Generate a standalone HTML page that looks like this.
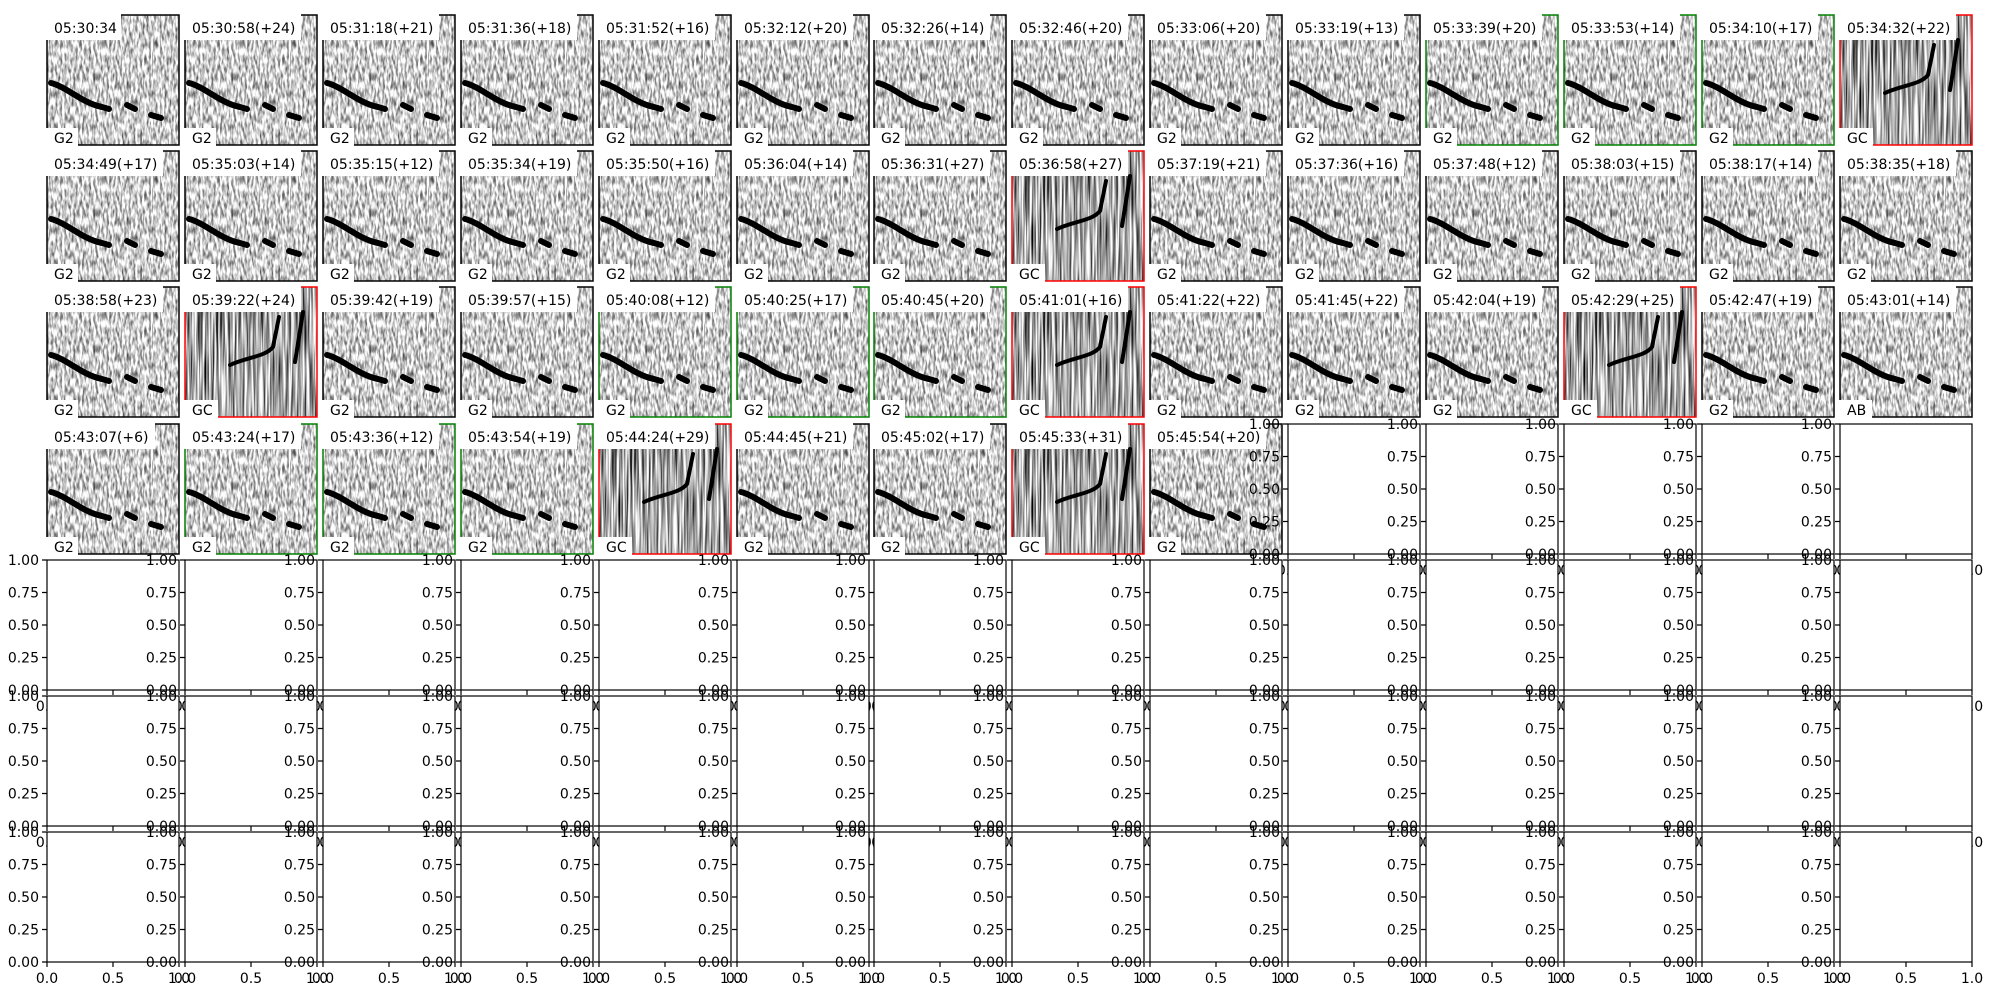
<!DOCTYPE html>
<html><head><meta charset="utf-8"><style>
html,body{margin:0;padding:0;background:#fff}
svg{display:block}
text{font-family:"DejaVu Sans","Liberation Sans",sans-serif;font-size:14px;fill:#000}
.yl{text-anchor:end}
.xl{text-anchor:middle}
.ax{fill:#fff;stroke:#000;stroke-width:1.2}
.tk{stroke:#000;stroke-width:1.2;fill:none}
.fr{fill:none;stroke:#000;stroke-width:1.5}
.fg{fill:none;stroke:#008000;stroke-width:1.5}
.fred{fill:none;stroke:#ff0000;stroke-width:1.5}
.bx{fill:#fff}
.c{fill:none;stroke:#000;stroke-width:6;stroke-linecap:round}
.c2{fill:none;stroke:#000;stroke-width:4;stroke-linecap:round}
</style></head><body>
<svg width="2000" height="1000" viewBox="0 0 2000 1000" xmlns="http://www.w3.org/2000/svg">
<defs>
<filter id="n" x="0" y="0" width="1" height="1" filterUnits="objectBoundingBox">
<feTurbulence type="fractalNoise" baseFrequency="0.45 0.12" numOctaves="2" seed="3"/>
<feColorMatrix type="matrix" values="0 0 0 0 0  0 0 0 0 0  0 0 0 0 0  1.5 0 0 0 -0.55"/>
</filter>
<filter id="g" x="0" y="0" width="1" height="1" filterUnits="objectBoundingBox">
<feTurbulence type="fractalNoise" baseFrequency="0.5 0.015" numOctaves="2" seed="7"/>
<feColorMatrix type="matrix" values="0 0 0 0 0  0 0 0 0 0  0 0 0 0 0  2.2 0 0 0 -0.75"/>
</filter>
<g id="s2"><rect width="132" height="130" fill="#fff"/><rect width="132" height="130" filter="url(#n)"/><path class="c" d="M4 68 C20 72 35 88 55 92 L62 94 M80 90 l8 4 M104 100 l10 3"/></g>
<g id="sc"><rect width="132" height="130" fill="#fff"/><rect width="132" height="130" filter="url(#g)"/><path class="c2" d="M45 78 C62 70 80 70 88 60 L94 30 M110 75 L118 25"/></g>
</defs>

<!-- Row 1 -->
<g transform="translate(47,15)"><use href="#s2"/><rect class="fr" width="132" height="130"/><rect class="bx" x="-1" y="-1" width="75" height="26"/><text x="7" y="18">05:30:34</text><rect class="bx" x="-1" y="113" width="32" height="18"/><text x="7" y="128">G2</text></g>
<g transform="translate(185,15)"><use href="#s2"/><rect class="fr" width="132" height="130"/><rect class="bx" x="-1" y="-1" width="117" height="26"/><text x="7" y="18">05:30:58(+24)</text><rect class="bx" x="-1" y="113" width="32" height="18"/><text x="7" y="128">G2</text></g>
<g transform="translate(323,15)"><use href="#s2"/><rect class="fr" width="132" height="130"/><rect class="bx" x="-1" y="-1" width="117" height="26"/><text x="7" y="18">05:31:18(+21)</text><rect class="bx" x="-1" y="113" width="32" height="18"/><text x="7" y="128">G2</text></g>
<g transform="translate(461,15)"><use href="#s2"/><rect class="fr" width="132" height="130"/><rect class="bx" x="-1" y="-1" width="117" height="26"/><text x="7" y="18">05:31:36(+18)</text><rect class="bx" x="-1" y="113" width="32" height="18"/><text x="7" y="128">G2</text></g>
<g transform="translate(599,15)"><use href="#s2"/><rect class="fr" width="132" height="130"/><rect class="bx" x="-1" y="-1" width="117" height="26"/><text x="7" y="18">05:31:52(+16)</text><rect class="bx" x="-1" y="113" width="32" height="18"/><text x="7" y="128">G2</text></g>
<g transform="translate(737,15)"><use href="#s2"/><rect class="fr" width="132" height="130"/><rect class="bx" x="-1" y="-1" width="117" height="26"/><text x="7" y="18">05:32:12(+20)</text><rect class="bx" x="-1" y="113" width="32" height="18"/><text x="7" y="128">G2</text></g>
<g transform="translate(874,15)"><use href="#s2"/><rect class="fr" width="132" height="130"/><rect class="bx" x="-1" y="-1" width="117" height="26"/><text x="7" y="18">05:32:26(+14)</text><rect class="bx" x="-1" y="113" width="32" height="18"/><text x="7" y="128">G2</text></g>
<g transform="translate(1012,15)"><use href="#s2"/><rect class="fr" width="132" height="130"/><rect class="bx" x="-1" y="-1" width="117" height="26"/><text x="7" y="18">05:32:46(+20)</text><rect class="bx" x="-1" y="113" width="32" height="18"/><text x="7" y="128">G2</text></g>
<g transform="translate(1150,15)"><use href="#s2"/><rect class="fr" width="132" height="130"/><rect class="bx" x="-1" y="-1" width="117" height="26"/><text x="7" y="18">05:33:06(+20)</text><rect class="bx" x="-1" y="113" width="32" height="18"/><text x="7" y="128">G2</text></g>
<g transform="translate(1288,15)"><use href="#s2"/><rect class="fr" width="132" height="130"/><rect class="bx" x="-1" y="-1" width="117" height="26"/><text x="7" y="18">05:33:19(+13)</text><rect class="bx" x="-1" y="113" width="32" height="18"/><text x="7" y="128">G2</text></g>
<g transform="translate(1426,15)"><use href="#s2"/><rect class="fg" width="132" height="130"/><rect class="bx" x="-1" y="-1" width="117" height="26"/><text x="7" y="18">05:33:39(+20)</text><rect class="bx" x="-1" y="113" width="32" height="18"/><text x="7" y="128">G2</text></g>
<g transform="translate(1564,15)"><use href="#s2"/><rect class="fg" width="132" height="130"/><rect class="bx" x="-1" y="-1" width="117" height="26"/><text x="7" y="18">05:33:53(+14)</text><rect class="bx" x="-1" y="113" width="32" height="18"/><text x="7" y="128">G2</text></g>
<g transform="translate(1702,15)"><use href="#s2"/><rect class="fg" width="132" height="130"/><rect class="bx" x="-1" y="-1" width="117" height="26"/><text x="7" y="18">05:34:10(+17)</text><rect class="bx" x="-1" y="113" width="32" height="18"/><text x="7" y="128">G2</text></g>
<g transform="translate(1840,15)"><use href="#sc"/><rect class="fred" width="132" height="130"/><rect class="bx" x="-1" y="-1" width="117" height="26"/><text x="7" y="18">05:34:32(+22)</text><rect class="bx" x="-1" y="113" width="34" height="18"/><text x="7" y="128">GC</text></g>

<!-- Row 2 -->
<g transform="translate(47,151)"><use href="#s2"/><rect class="fr" width="132" height="130"/><rect class="bx" x="-1" y="-1" width="117" height="26"/><text x="7" y="18">05:34:49(+17)</text><rect class="bx" x="-1" y="113" width="32" height="18"/><text x="7" y="128">G2</text></g>
<g transform="translate(185,151)"><use href="#s2"/><rect class="fr" width="132" height="130"/><rect class="bx" x="-1" y="-1" width="117" height="26"/><text x="7" y="18">05:35:03(+14)</text><rect class="bx" x="-1" y="113" width="32" height="18"/><text x="7" y="128">G2</text></g>
<g transform="translate(323,151)"><use href="#s2"/><rect class="fr" width="132" height="130"/><rect class="bx" x="-1" y="-1" width="117" height="26"/><text x="7" y="18">05:35:15(+12)</text><rect class="bx" x="-1" y="113" width="32" height="18"/><text x="7" y="128">G2</text></g>
<g transform="translate(461,151)"><use href="#s2"/><rect class="fr" width="132" height="130"/><rect class="bx" x="-1" y="-1" width="117" height="26"/><text x="7" y="18">05:35:34(+19)</text><rect class="bx" x="-1" y="113" width="32" height="18"/><text x="7" y="128">G2</text></g>
<g transform="translate(599,151)"><use href="#s2"/><rect class="fr" width="132" height="130"/><rect class="bx" x="-1" y="-1" width="117" height="26"/><text x="7" y="18">05:35:50(+16)</text><rect class="bx" x="-1" y="113" width="32" height="18"/><text x="7" y="128">G2</text></g>
<g transform="translate(737,151)"><use href="#s2"/><rect class="fr" width="132" height="130"/><rect class="bx" x="-1" y="-1" width="117" height="26"/><text x="7" y="18">05:36:04(+14)</text><rect class="bx" x="-1" y="113" width="32" height="18"/><text x="7" y="128">G2</text></g>
<g transform="translate(874,151)"><use href="#s2"/><rect class="fr" width="132" height="130"/><rect class="bx" x="-1" y="-1" width="117" height="26"/><text x="7" y="18">05:36:31(+27)</text><rect class="bx" x="-1" y="113" width="32" height="18"/><text x="7" y="128">G2</text></g>
<g transform="translate(1012,151)"><use href="#sc"/><rect class="fred" width="132" height="130"/><rect class="bx" x="-1" y="-1" width="117" height="26"/><text x="7" y="18">05:36:58(+27)</text><rect class="bx" x="-1" y="113" width="34" height="18"/><text x="7" y="128">GC</text></g>
<g transform="translate(1150,151)"><use href="#s2"/><rect class="fr" width="132" height="130"/><rect class="bx" x="-1" y="-1" width="117" height="26"/><text x="7" y="18">05:37:19(+21)</text><rect class="bx" x="-1" y="113" width="32" height="18"/><text x="7" y="128">G2</text></g>
<g transform="translate(1288,151)"><use href="#s2"/><rect class="fr" width="132" height="130"/><rect class="bx" x="-1" y="-1" width="117" height="26"/><text x="7" y="18">05:37:36(+16)</text><rect class="bx" x="-1" y="113" width="32" height="18"/><text x="7" y="128">G2</text></g>
<g transform="translate(1426,151)"><use href="#s2"/><rect class="fr" width="132" height="130"/><rect class="bx" x="-1" y="-1" width="117" height="26"/><text x="7" y="18">05:37:48(+12)</text><rect class="bx" x="-1" y="113" width="32" height="18"/><text x="7" y="128">G2</text></g>
<g transform="translate(1564,151)"><use href="#s2"/><rect class="fr" width="132" height="130"/><rect class="bx" x="-1" y="-1" width="117" height="26"/><text x="7" y="18">05:38:03(+15)</text><rect class="bx" x="-1" y="113" width="32" height="18"/><text x="7" y="128">G2</text></g>
<g transform="translate(1702,151)"><use href="#s2"/><rect class="fr" width="132" height="130"/><rect class="bx" x="-1" y="-1" width="117" height="26"/><text x="7" y="18">05:38:17(+14)</text><rect class="bx" x="-1" y="113" width="32" height="18"/><text x="7" y="128">G2</text></g>
<g transform="translate(1840,151)"><use href="#s2"/><rect class="fr" width="132" height="130"/><rect class="bx" x="-1" y="-1" width="117" height="26"/><text x="7" y="18">05:38:35(+18)</text><rect class="bx" x="-1" y="113" width="32" height="18"/><text x="7" y="128">G2</text></g>

<!-- Row 3 -->
<g transform="translate(47,287)"><use href="#s2"/><rect class="fr" width="132" height="130"/><rect class="bx" x="-1" y="-1" width="117" height="26"/><text x="7" y="18">05:38:58(+23)</text><rect class="bx" x="-1" y="113" width="32" height="18"/><text x="7" y="128">G2</text></g>
<g transform="translate(185,287)"><use href="#sc"/><rect class="fred" width="132" height="130"/><rect class="bx" x="-1" y="-1" width="117" height="26"/><text x="7" y="18">05:39:22(+24)</text><rect class="bx" x="-1" y="113" width="34" height="18"/><text x="7" y="128">GC</text></g>
<g transform="translate(323,287)"><use href="#s2"/><rect class="fr" width="132" height="130"/><rect class="bx" x="-1" y="-1" width="117" height="26"/><text x="7" y="18">05:39:42(+19)</text><rect class="bx" x="-1" y="113" width="32" height="18"/><text x="7" y="128">G2</text></g>
<g transform="translate(461,287)"><use href="#s2"/><rect class="fr" width="132" height="130"/><rect class="bx" x="-1" y="-1" width="117" height="26"/><text x="7" y="18">05:39:57(+15)</text><rect class="bx" x="-1" y="113" width="32" height="18"/><text x="7" y="128">G2</text></g>
<g transform="translate(599,287)"><use href="#s2"/><rect class="fg" width="132" height="130"/><rect class="bx" x="-1" y="-1" width="117" height="26"/><text x="7" y="18">05:40:08(+12)</text><rect class="bx" x="-1" y="113" width="32" height="18"/><text x="7" y="128">G2</text></g>
<g transform="translate(737,287)"><use href="#s2"/><rect class="fg" width="132" height="130"/><rect class="bx" x="-1" y="-1" width="117" height="26"/><text x="7" y="18">05:40:25(+17)</text><rect class="bx" x="-1" y="113" width="32" height="18"/><text x="7" y="128">G2</text></g>
<g transform="translate(874,287)"><use href="#s2"/><rect class="fg" width="132" height="130"/><rect class="bx" x="-1" y="-1" width="117" height="26"/><text x="7" y="18">05:40:45(+20)</text><rect class="bx" x="-1" y="113" width="32" height="18"/><text x="7" y="128">G2</text></g>
<g transform="translate(1012,287)"><use href="#sc"/><rect class="fred" width="132" height="130"/><rect class="bx" x="-1" y="-1" width="117" height="26"/><text x="7" y="18">05:41:01(+16)</text><rect class="bx" x="-1" y="113" width="34" height="18"/><text x="7" y="128">GC</text></g>
<g transform="translate(1150,287)"><use href="#s2"/><rect class="fr" width="132" height="130"/><rect class="bx" x="-1" y="-1" width="117" height="26"/><text x="7" y="18">05:41:22(+22)</text><rect class="bx" x="-1" y="113" width="32" height="18"/><text x="7" y="128">G2</text></g>
<g transform="translate(1288,287)"><use href="#s2"/><rect class="fr" width="132" height="130"/><rect class="bx" x="-1" y="-1" width="117" height="26"/><text x="7" y="18">05:41:45(+22)</text><rect class="bx" x="-1" y="113" width="32" height="18"/><text x="7" y="128">G2</text></g>
<g transform="translate(1426,287)"><use href="#s2"/><rect class="fr" width="132" height="130"/><rect class="bx" x="-1" y="-1" width="117" height="26"/><text x="7" y="18">05:42:04(+19)</text><rect class="bx" x="-1" y="113" width="32" height="18"/><text x="7" y="128">G2</text></g>
<g transform="translate(1564,287)"><use href="#sc"/><rect class="fred" width="132" height="130"/><rect class="bx" x="-1" y="-1" width="117" height="26"/><text x="7" y="18">05:42:29(+25)</text><rect class="bx" x="-1" y="113" width="34" height="18"/><text x="7" y="128">GC</text></g>
<g transform="translate(1702,287)"><use href="#s2"/><rect class="fr" width="132" height="130"/><rect class="bx" x="-1" y="-1" width="117" height="26"/><text x="7" y="18">05:42:47(+19)</text><rect class="bx" x="-1" y="113" width="32" height="18"/><text x="7" y="128">G2</text></g>
<g transform="translate(1840,287)"><use href="#s2"/><rect class="fr" width="132" height="130"/><rect class="bx" x="-1" y="-1" width="117" height="26"/><text x="7" y="18">05:43:01(+14)</text><rect class="bx" x="-1" y="113" width="33" height="18"/><text x="7" y="128">AB</text></g>

<!-- Row 4 -->
<g transform="translate(47,424)"><use href="#s2"/><rect class="fr" width="132" height="130"/><rect class="bx" x="-1" y="-1" width="109" height="26"/><text x="7" y="18">05:43:07(+6)</text><rect class="bx" x="-1" y="113" width="32" height="18"/><text x="7" y="128">G2</text></g>
<g transform="translate(185,424)"><use href="#s2"/><rect class="fg" width="132" height="130"/><rect class="bx" x="-1" y="-1" width="117" height="26"/><text x="7" y="18">05:43:24(+17)</text><rect class="bx" x="-1" y="113" width="32" height="18"/><text x="7" y="128">G2</text></g>
<g transform="translate(323,424)"><use href="#s2"/><rect class="fg" width="132" height="130"/><rect class="bx" x="-1" y="-1" width="117" height="26"/><text x="7" y="18">05:43:36(+12)</text><rect class="bx" x="-1" y="113" width="32" height="18"/><text x="7" y="128">G2</text></g>
<g transform="translate(461,424)"><use href="#s2"/><rect class="fg" width="132" height="130"/><rect class="bx" x="-1" y="-1" width="117" height="26"/><text x="7" y="18">05:43:54(+19)</text><rect class="bx" x="-1" y="113" width="32" height="18"/><text x="7" y="128">G2</text></g>
<g transform="translate(599,424)"><use href="#sc"/><rect class="fred" width="132" height="130"/><rect class="bx" x="-1" y="-1" width="117" height="26"/><text x="7" y="18">05:44:24(+29)</text><rect class="bx" x="-1" y="113" width="34" height="18"/><text x="7" y="128">GC</text></g>
<g transform="translate(737,424)"><use href="#s2"/><rect class="fr" width="132" height="130"/><rect class="bx" x="-1" y="-1" width="117" height="26"/><text x="7" y="18">05:44:45(+21)</text><rect class="bx" x="-1" y="113" width="32" height="18"/><text x="7" y="128">G2</text></g>
<g transform="translate(874,424)"><use href="#s2"/><rect class="fr" width="132" height="130"/><rect class="bx" x="-1" y="-1" width="117" height="26"/><text x="7" y="18">05:45:02(+17)</text><rect class="bx" x="-1" y="113" width="32" height="18"/><text x="7" y="128">G2</text></g>
<g transform="translate(1012,424)"><use href="#sc"/><rect class="fred" width="132" height="130"/><rect class="bx" x="-1" y="-1" width="117" height="26"/><text x="7" y="18">05:45:33(+31)</text><rect class="bx" x="-1" y="113" width="34" height="18"/><text x="7" y="128">GC</text></g>
<g transform="translate(1150,424)"><use href="#s2"/><rect class="fr" width="132" height="130"/><rect class="bx" x="-1" y="-1" width="117" height="26"/><text x="7" y="18">05:45:54(+20)</text><rect class="bx" x="-1" y="113" width="32" height="18"/><text x="7" y="128">G2</text></g>
<g transform="translate(1288,424)"><rect class="ax" width="132" height="130"/><path class="tk" d="M-5 0H0M-5 32.5H0M-5 65H0M-5 97.5H0M-5 130H0M0 130v5M66 130v5M132 130v5"/><text class="yl" x="-8" y="5">1.00</text><text class="yl" x="-8" y="37.5">0.75</text><text class="yl" x="-8" y="70">0.50</text><text class="yl" x="-8" y="102.5">0.25</text><text class="yl" x="-8" y="135">0.00</text><text class="xl" x="0" y="151">0.0</text><text class="xl" x="66" y="151">0.5</text><text class="xl" x="132" y="151">1.0</text></g>
<g transform="translate(1426,424)"><rect class="ax" width="132" height="130"/><path class="tk" d="M-5 0H0M-5 32.5H0M-5 65H0M-5 97.5H0M-5 130H0M0 130v5M66 130v5M132 130v5"/><text class="yl" x="-8" y="5">1.00</text><text class="yl" x="-8" y="37.5">0.75</text><text class="yl" x="-8" y="70">0.50</text><text class="yl" x="-8" y="102.5">0.25</text><text class="yl" x="-8" y="135">0.00</text><text class="xl" x="0" y="151">0.0</text><text class="xl" x="66" y="151">0.5</text><text class="xl" x="132" y="151">1.0</text></g>
<g transform="translate(1564,424)"><rect class="ax" width="132" height="130"/><path class="tk" d="M-5 0H0M-5 32.5H0M-5 65H0M-5 97.5H0M-5 130H0M0 130v5M66 130v5M132 130v5"/><text class="yl" x="-8" y="5">1.00</text><text class="yl" x="-8" y="37.5">0.75</text><text class="yl" x="-8" y="70">0.50</text><text class="yl" x="-8" y="102.5">0.25</text><text class="yl" x="-8" y="135">0.00</text><text class="xl" x="0" y="151">0.0</text><text class="xl" x="66" y="151">0.5</text><text class="xl" x="132" y="151">1.0</text></g>
<g transform="translate(1702,424)"><rect class="ax" width="132" height="130"/><path class="tk" d="M-5 0H0M-5 32.5H0M-5 65H0M-5 97.5H0M-5 130H0M0 130v5M66 130v5M132 130v5"/><text class="yl" x="-8" y="5">1.00</text><text class="yl" x="-8" y="37.5">0.75</text><text class="yl" x="-8" y="70">0.50</text><text class="yl" x="-8" y="102.5">0.25</text><text class="yl" x="-8" y="135">0.00</text><text class="xl" x="0" y="151">0.0</text><text class="xl" x="66" y="151">0.5</text><text class="xl" x="132" y="151">1.0</text></g>
<g transform="translate(1840,424)"><rect class="ax" width="132" height="130"/><path class="tk" d="M-5 0H0M-5 32.5H0M-5 65H0M-5 97.5H0M-5 130H0M0 130v5M66 130v5M132 130v5"/><text class="yl" x="-8" y="5">1.00</text><text class="yl" x="-8" y="37.5">0.75</text><text class="yl" x="-8" y="70">0.50</text><text class="yl" x="-8" y="102.5">0.25</text><text class="yl" x="-8" y="135">0.00</text><text class="xl" x="0" y="151">0.0</text><text class="xl" x="66" y="151">0.5</text><text class="xl" x="132" y="151">1.0</text></g>

<!-- Row 5 -->
<g transform="translate(47,560)"><rect class="ax" width="132" height="130"/><path class="tk" d="M-5 0H0M-5 32.5H0M-5 65H0M-5 97.5H0M-5 130H0M0 130v5M66 130v5M132 130v5"/><text class="yl" x="-8" y="5">1.00</text><text class="yl" x="-8" y="37.5">0.75</text><text class="yl" x="-8" y="70">0.50</text><text class="yl" x="-8" y="102.5">0.25</text><text class="yl" x="-8" y="135">0.00</text><text class="xl" x="0" y="151">0.0</text><text class="xl" x="66" y="151">0.5</text><text class="xl" x="132" y="151">1.0</text></g>
<g transform="translate(185,560)"><rect class="ax" width="132" height="130"/><path class="tk" d="M-5 0H0M-5 32.5H0M-5 65H0M-5 97.5H0M-5 130H0M0 130v5M66 130v5M132 130v5"/><text class="yl" x="-8" y="5">1.00</text><text class="yl" x="-8" y="37.5">0.75</text><text class="yl" x="-8" y="70">0.50</text><text class="yl" x="-8" y="102.5">0.25</text><text class="yl" x="-8" y="135">0.00</text><text class="xl" x="0" y="151">0.0</text><text class="xl" x="66" y="151">0.5</text><text class="xl" x="132" y="151">1.0</text></g>
<g transform="translate(323,560)"><rect class="ax" width="132" height="130"/><path class="tk" d="M-5 0H0M-5 32.5H0M-5 65H0M-5 97.5H0M-5 130H0M0 130v5M66 130v5M132 130v5"/><text class="yl" x="-8" y="5">1.00</text><text class="yl" x="-8" y="37.5">0.75</text><text class="yl" x="-8" y="70">0.50</text><text class="yl" x="-8" y="102.5">0.25</text><text class="yl" x="-8" y="135">0.00</text><text class="xl" x="0" y="151">0.0</text><text class="xl" x="66" y="151">0.5</text><text class="xl" x="132" y="151">1.0</text></g>
<g transform="translate(461,560)"><rect class="ax" width="132" height="130"/><path class="tk" d="M-5 0H0M-5 32.5H0M-5 65H0M-5 97.5H0M-5 130H0M0 130v5M66 130v5M132 130v5"/><text class="yl" x="-8" y="5">1.00</text><text class="yl" x="-8" y="37.5">0.75</text><text class="yl" x="-8" y="70">0.50</text><text class="yl" x="-8" y="102.5">0.25</text><text class="yl" x="-8" y="135">0.00</text><text class="xl" x="0" y="151">0.0</text><text class="xl" x="66" y="151">0.5</text><text class="xl" x="132" y="151">1.0</text></g>
<g transform="translate(599,560)"><rect class="ax" width="132" height="130"/><path class="tk" d="M-5 0H0M-5 32.5H0M-5 65H0M-5 97.5H0M-5 130H0M0 130v5M66 130v5M132 130v5"/><text class="yl" x="-8" y="5">1.00</text><text class="yl" x="-8" y="37.5">0.75</text><text class="yl" x="-8" y="70">0.50</text><text class="yl" x="-8" y="102.5">0.25</text><text class="yl" x="-8" y="135">0.00</text><text class="xl" x="0" y="151">0.0</text><text class="xl" x="66" y="151">0.5</text><text class="xl" x="132" y="151">1.0</text></g>
<g transform="translate(737,560)"><rect class="ax" width="132" height="130"/><path class="tk" d="M-5 0H0M-5 32.5H0M-5 65H0M-5 97.5H0M-5 130H0M0 130v5M66 130v5M132 130v5"/><text class="yl" x="-8" y="5">1.00</text><text class="yl" x="-8" y="37.5">0.75</text><text class="yl" x="-8" y="70">0.50</text><text class="yl" x="-8" y="102.5">0.25</text><text class="yl" x="-8" y="135">0.00</text><text class="xl" x="0" y="151">0.0</text><text class="xl" x="66" y="151">0.5</text><text class="xl" x="132" y="151">1.0</text></g>
<g transform="translate(874,560)"><rect class="ax" width="132" height="130"/><path class="tk" d="M-5 0H0M-5 32.5H0M-5 65H0M-5 97.5H0M-5 130H0M0 130v5M66 130v5M132 130v5"/><text class="yl" x="-8" y="5">1.00</text><text class="yl" x="-8" y="37.5">0.75</text><text class="yl" x="-8" y="70">0.50</text><text class="yl" x="-8" y="102.5">0.25</text><text class="yl" x="-8" y="135">0.00</text><text class="xl" x="0" y="151">0.0</text><text class="xl" x="66" y="151">0.5</text><text class="xl" x="132" y="151">1.0</text></g>
<g transform="translate(1012,560)"><rect class="ax" width="132" height="130"/><path class="tk" d="M-5 0H0M-5 32.5H0M-5 65H0M-5 97.5H0M-5 130H0M0 130v5M66 130v5M132 130v5"/><text class="yl" x="-8" y="5">1.00</text><text class="yl" x="-8" y="37.5">0.75</text><text class="yl" x="-8" y="70">0.50</text><text class="yl" x="-8" y="102.5">0.25</text><text class="yl" x="-8" y="135">0.00</text><text class="xl" x="0" y="151">0.0</text><text class="xl" x="66" y="151">0.5</text><text class="xl" x="132" y="151">1.0</text></g>
<g transform="translate(1150,560)"><rect class="ax" width="132" height="130"/><path class="tk" d="M-5 0H0M-5 32.5H0M-5 65H0M-5 97.5H0M-5 130H0M0 130v5M66 130v5M132 130v5"/><text class="yl" x="-8" y="5">1.00</text><text class="yl" x="-8" y="37.5">0.75</text><text class="yl" x="-8" y="70">0.50</text><text class="yl" x="-8" y="102.5">0.25</text><text class="yl" x="-8" y="135">0.00</text><text class="xl" x="0" y="151">0.0</text><text class="xl" x="66" y="151">0.5</text><text class="xl" x="132" y="151">1.0</text></g>
<g transform="translate(1288,560)"><rect class="ax" width="132" height="130"/><path class="tk" d="M-5 0H0M-5 32.5H0M-5 65H0M-5 97.5H0M-5 130H0M0 130v5M66 130v5M132 130v5"/><text class="yl" x="-8" y="5">1.00</text><text class="yl" x="-8" y="37.5">0.75</text><text class="yl" x="-8" y="70">0.50</text><text class="yl" x="-8" y="102.5">0.25</text><text class="yl" x="-8" y="135">0.00</text><text class="xl" x="0" y="151">0.0</text><text class="xl" x="66" y="151">0.5</text><text class="xl" x="132" y="151">1.0</text></g>
<g transform="translate(1426,560)"><rect class="ax" width="132" height="130"/><path class="tk" d="M-5 0H0M-5 32.5H0M-5 65H0M-5 97.5H0M-5 130H0M0 130v5M66 130v5M132 130v5"/><text class="yl" x="-8" y="5">1.00</text><text class="yl" x="-8" y="37.5">0.75</text><text class="yl" x="-8" y="70">0.50</text><text class="yl" x="-8" y="102.5">0.25</text><text class="yl" x="-8" y="135">0.00</text><text class="xl" x="0" y="151">0.0</text><text class="xl" x="66" y="151">0.5</text><text class="xl" x="132" y="151">1.0</text></g>
<g transform="translate(1564,560)"><rect class="ax" width="132" height="130"/><path class="tk" d="M-5 0H0M-5 32.5H0M-5 65H0M-5 97.5H0M-5 130H0M0 130v5M66 130v5M132 130v5"/><text class="yl" x="-8" y="5">1.00</text><text class="yl" x="-8" y="37.5">0.75</text><text class="yl" x="-8" y="70">0.50</text><text class="yl" x="-8" y="102.5">0.25</text><text class="yl" x="-8" y="135">0.00</text><text class="xl" x="0" y="151">0.0</text><text class="xl" x="66" y="151">0.5</text><text class="xl" x="132" y="151">1.0</text></g>
<g transform="translate(1702,560)"><rect class="ax" width="132" height="130"/><path class="tk" d="M-5 0H0M-5 32.5H0M-5 65H0M-5 97.5H0M-5 130H0M0 130v5M66 130v5M132 130v5"/><text class="yl" x="-8" y="5">1.00</text><text class="yl" x="-8" y="37.5">0.75</text><text class="yl" x="-8" y="70">0.50</text><text class="yl" x="-8" y="102.5">0.25</text><text class="yl" x="-8" y="135">0.00</text><text class="xl" x="0" y="151">0.0</text><text class="xl" x="66" y="151">0.5</text><text class="xl" x="132" y="151">1.0</text></g>
<g transform="translate(1840,560)"><rect class="ax" width="132" height="130"/><path class="tk" d="M-5 0H0M-5 32.5H0M-5 65H0M-5 97.5H0M-5 130H0M0 130v5M66 130v5M132 130v5"/><text class="yl" x="-8" y="5">1.00</text><text class="yl" x="-8" y="37.5">0.75</text><text class="yl" x="-8" y="70">0.50</text><text class="yl" x="-8" y="102.5">0.25</text><text class="yl" x="-8" y="135">0.00</text><text class="xl" x="0" y="151">0.0</text><text class="xl" x="66" y="151">0.5</text><text class="xl" x="132" y="151">1.0</text></g>

<!-- Row 6 -->
<g transform="translate(47,696)"><rect class="ax" width="132" height="130"/><path class="tk" d="M-5 0H0M-5 32.5H0M-5 65H0M-5 97.5H0M-5 130H0M0 130v5M66 130v5M132 130v5"/><text class="yl" x="-8" y="5">1.00</text><text class="yl" x="-8" y="37.5">0.75</text><text class="yl" x="-8" y="70">0.50</text><text class="yl" x="-8" y="102.5">0.25</text><text class="yl" x="-8" y="135">0.00</text><text class="xl" x="0" y="151">0.0</text><text class="xl" x="66" y="151">0.5</text><text class="xl" x="132" y="151">1.0</text></g>
<g transform="translate(185,696)"><rect class="ax" width="132" height="130"/><path class="tk" d="M-5 0H0M-5 32.5H0M-5 65H0M-5 97.5H0M-5 130H0M0 130v5M66 130v5M132 130v5"/><text class="yl" x="-8" y="5">1.00</text><text class="yl" x="-8" y="37.5">0.75</text><text class="yl" x="-8" y="70">0.50</text><text class="yl" x="-8" y="102.5">0.25</text><text class="yl" x="-8" y="135">0.00</text><text class="xl" x="0" y="151">0.0</text><text class="xl" x="66" y="151">0.5</text><text class="xl" x="132" y="151">1.0</text></g>
<g transform="translate(323,696)"><rect class="ax" width="132" height="130"/><path class="tk" d="M-5 0H0M-5 32.5H0M-5 65H0M-5 97.5H0M-5 130H0M0 130v5M66 130v5M132 130v5"/><text class="yl" x="-8" y="5">1.00</text><text class="yl" x="-8" y="37.5">0.75</text><text class="yl" x="-8" y="70">0.50</text><text class="yl" x="-8" y="102.5">0.25</text><text class="yl" x="-8" y="135">0.00</text><text class="xl" x="0" y="151">0.0</text><text class="xl" x="66" y="151">0.5</text><text class="xl" x="132" y="151">1.0</text></g>
<g transform="translate(461,696)"><rect class="ax" width="132" height="130"/><path class="tk" d="M-5 0H0M-5 32.5H0M-5 65H0M-5 97.5H0M-5 130H0M0 130v5M66 130v5M132 130v5"/><text class="yl" x="-8" y="5">1.00</text><text class="yl" x="-8" y="37.5">0.75</text><text class="yl" x="-8" y="70">0.50</text><text class="yl" x="-8" y="102.5">0.25</text><text class="yl" x="-8" y="135">0.00</text><text class="xl" x="0" y="151">0.0</text><text class="xl" x="66" y="151">0.5</text><text class="xl" x="132" y="151">1.0</text></g>
<g transform="translate(599,696)"><rect class="ax" width="132" height="130"/><path class="tk" d="M-5 0H0M-5 32.5H0M-5 65H0M-5 97.5H0M-5 130H0M0 130v5M66 130v5M132 130v5"/><text class="yl" x="-8" y="5">1.00</text><text class="yl" x="-8" y="37.5">0.75</text><text class="yl" x="-8" y="70">0.50</text><text class="yl" x="-8" y="102.5">0.25</text><text class="yl" x="-8" y="135">0.00</text><text class="xl" x="0" y="151">0.0</text><text class="xl" x="66" y="151">0.5</text><text class="xl" x="132" y="151">1.0</text></g>
<g transform="translate(737,696)"><rect class="ax" width="132" height="130"/><path class="tk" d="M-5 0H0M-5 32.5H0M-5 65H0M-5 97.5H0M-5 130H0M0 130v5M66 130v5M132 130v5"/><text class="yl" x="-8" y="5">1.00</text><text class="yl" x="-8" y="37.5">0.75</text><text class="yl" x="-8" y="70">0.50</text><text class="yl" x="-8" y="102.5">0.25</text><text class="yl" x="-8" y="135">0.00</text><text class="xl" x="0" y="151">0.0</text><text class="xl" x="66" y="151">0.5</text><text class="xl" x="132" y="151">1.0</text></g>
<g transform="translate(874,696)"><rect class="ax" width="132" height="130"/><path class="tk" d="M-5 0H0M-5 32.5H0M-5 65H0M-5 97.5H0M-5 130H0M0 130v5M66 130v5M132 130v5"/><text class="yl" x="-8" y="5">1.00</text><text class="yl" x="-8" y="37.5">0.75</text><text class="yl" x="-8" y="70">0.50</text><text class="yl" x="-8" y="102.5">0.25</text><text class="yl" x="-8" y="135">0.00</text><text class="xl" x="0" y="151">0.0</text><text class="xl" x="66" y="151">0.5</text><text class="xl" x="132" y="151">1.0</text></g>
<g transform="translate(1012,696)"><rect class="ax" width="132" height="130"/><path class="tk" d="M-5 0H0M-5 32.5H0M-5 65H0M-5 97.5H0M-5 130H0M0 130v5M66 130v5M132 130v5"/><text class="yl" x="-8" y="5">1.00</text><text class="yl" x="-8" y="37.5">0.75</text><text class="yl" x="-8" y="70">0.50</text><text class="yl" x="-8" y="102.5">0.25</text><text class="yl" x="-8" y="135">0.00</text><text class="xl" x="0" y="151">0.0</text><text class="xl" x="66" y="151">0.5</text><text class="xl" x="132" y="151">1.0</text></g>
<g transform="translate(1150,696)"><rect class="ax" width="132" height="130"/><path class="tk" d="M-5 0H0M-5 32.5H0M-5 65H0M-5 97.5H0M-5 130H0M0 130v5M66 130v5M132 130v5"/><text class="yl" x="-8" y="5">1.00</text><text class="yl" x="-8" y="37.5">0.75</text><text class="yl" x="-8" y="70">0.50</text><text class="yl" x="-8" y="102.5">0.25</text><text class="yl" x="-8" y="135">0.00</text><text class="xl" x="0" y="151">0.0</text><text class="xl" x="66" y="151">0.5</text><text class="xl" x="132" y="151">1.0</text></g>
<g transform="translate(1288,696)"><rect class="ax" width="132" height="130"/><path class="tk" d="M-5 0H0M-5 32.5H0M-5 65H0M-5 97.5H0M-5 130H0M0 130v5M66 130v5M132 130v5"/><text class="yl" x="-8" y="5">1.00</text><text class="yl" x="-8" y="37.5">0.75</text><text class="yl" x="-8" y="70">0.50</text><text class="yl" x="-8" y="102.5">0.25</text><text class="yl" x="-8" y="135">0.00</text><text class="xl" x="0" y="151">0.0</text><text class="xl" x="66" y="151">0.5</text><text class="xl" x="132" y="151">1.0</text></g>
<g transform="translate(1426,696)"><rect class="ax" width="132" height="130"/><path class="tk" d="M-5 0H0M-5 32.5H0M-5 65H0M-5 97.5H0M-5 130H0M0 130v5M66 130v5M132 130v5"/><text class="yl" x="-8" y="5">1.00</text><text class="yl" x="-8" y="37.5">0.75</text><text class="yl" x="-8" y="70">0.50</text><text class="yl" x="-8" y="102.5">0.25</text><text class="yl" x="-8" y="135">0.00</text><text class="xl" x="0" y="151">0.0</text><text class="xl" x="66" y="151">0.5</text><text class="xl" x="132" y="151">1.0</text></g>
<g transform="translate(1564,696)"><rect class="ax" width="132" height="130"/><path class="tk" d="M-5 0H0M-5 32.5H0M-5 65H0M-5 97.5H0M-5 130H0M0 130v5M66 130v5M132 130v5"/><text class="yl" x="-8" y="5">1.00</text><text class="yl" x="-8" y="37.5">0.75</text><text class="yl" x="-8" y="70">0.50</text><text class="yl" x="-8" y="102.5">0.25</text><text class="yl" x="-8" y="135">0.00</text><text class="xl" x="0" y="151">0.0</text><text class="xl" x="66" y="151">0.5</text><text class="xl" x="132" y="151">1.0</text></g>
<g transform="translate(1702,696)"><rect class="ax" width="132" height="130"/><path class="tk" d="M-5 0H0M-5 32.5H0M-5 65H0M-5 97.5H0M-5 130H0M0 130v5M66 130v5M132 130v5"/><text class="yl" x="-8" y="5">1.00</text><text class="yl" x="-8" y="37.5">0.75</text><text class="yl" x="-8" y="70">0.50</text><text class="yl" x="-8" y="102.5">0.25</text><text class="yl" x="-8" y="135">0.00</text><text class="xl" x="0" y="151">0.0</text><text class="xl" x="66" y="151">0.5</text><text class="xl" x="132" y="151">1.0</text></g>
<g transform="translate(1840,696)"><rect class="ax" width="132" height="130"/><path class="tk" d="M-5 0H0M-5 32.5H0M-5 65H0M-5 97.5H0M-5 130H0M0 130v5M66 130v5M132 130v5"/><text class="yl" x="-8" y="5">1.00</text><text class="yl" x="-8" y="37.5">0.75</text><text class="yl" x="-8" y="70">0.50</text><text class="yl" x="-8" y="102.5">0.25</text><text class="yl" x="-8" y="135">0.00</text><text class="xl" x="0" y="151">0.0</text><text class="xl" x="66" y="151">0.5</text><text class="xl" x="132" y="151">1.0</text></g>

<!-- Row 7 -->
<g transform="translate(47,832)"><rect class="ax" width="132" height="130"/><path class="tk" d="M-5 0H0M-5 32.5H0M-5 65H0M-5 97.5H0M-5 130H0M0 130v5M66 130v5M132 130v5"/><text class="yl" x="-8" y="5">1.00</text><text class="yl" x="-8" y="37.5">0.75</text><text class="yl" x="-8" y="70">0.50</text><text class="yl" x="-8" y="102.5">0.25</text><text class="yl" x="-8" y="135">0.00</text><text class="xl" x="0" y="151">0.0</text><text class="xl" x="66" y="151">0.5</text><text class="xl" x="132" y="151">1.0</text></g>
<g transform="translate(185,832)"><rect class="ax" width="132" height="130"/><path class="tk" d="M-5 0H0M-5 32.5H0M-5 65H0M-5 97.5H0M-5 130H0M0 130v5M66 130v5M132 130v5"/><text class="yl" x="-8" y="5">1.00</text><text class="yl" x="-8" y="37.5">0.75</text><text class="yl" x="-8" y="70">0.50</text><text class="yl" x="-8" y="102.5">0.25</text><text class="yl" x="-8" y="135">0.00</text><text class="xl" x="0" y="151">0.0</text><text class="xl" x="66" y="151">0.5</text><text class="xl" x="132" y="151">1.0</text></g>
<g transform="translate(323,832)"><rect class="ax" width="132" height="130"/><path class="tk" d="M-5 0H0M-5 32.5H0M-5 65H0M-5 97.5H0M-5 130H0M0 130v5M66 130v5M132 130v5"/><text class="yl" x="-8" y="5">1.00</text><text class="yl" x="-8" y="37.5">0.75</text><text class="yl" x="-8" y="70">0.50</text><text class="yl" x="-8" y="102.5">0.25</text><text class="yl" x="-8" y="135">0.00</text><text class="xl" x="0" y="151">0.0</text><text class="xl" x="66" y="151">0.5</text><text class="xl" x="132" y="151">1.0</text></g>
<g transform="translate(461,832)"><rect class="ax" width="132" height="130"/><path class="tk" d="M-5 0H0M-5 32.5H0M-5 65H0M-5 97.5H0M-5 130H0M0 130v5M66 130v5M132 130v5"/><text class="yl" x="-8" y="5">1.00</text><text class="yl" x="-8" y="37.5">0.75</text><text class="yl" x="-8" y="70">0.50</text><text class="yl" x="-8" y="102.5">0.25</text><text class="yl" x="-8" y="135">0.00</text><text class="xl" x="0" y="151">0.0</text><text class="xl" x="66" y="151">0.5</text><text class="xl" x="132" y="151">1.0</text></g>
<g transform="translate(599,832)"><rect class="ax" width="132" height="130"/><path class="tk" d="M-5 0H0M-5 32.5H0M-5 65H0M-5 97.5H0M-5 130H0M0 130v5M66 130v5M132 130v5"/><text class="yl" x="-8" y="5">1.00</text><text class="yl" x="-8" y="37.5">0.75</text><text class="yl" x="-8" y="70">0.50</text><text class="yl" x="-8" y="102.5">0.25</text><text class="yl" x="-8" y="135">0.00</text><text class="xl" x="0" y="151">0.0</text><text class="xl" x="66" y="151">0.5</text><text class="xl" x="132" y="151">1.0</text></g>
<g transform="translate(737,832)"><rect class="ax" width="132" height="130"/><path class="tk" d="M-5 0H0M-5 32.5H0M-5 65H0M-5 97.5H0M-5 130H0M0 130v5M66 130v5M132 130v5"/><text class="yl" x="-8" y="5">1.00</text><text class="yl" x="-8" y="37.5">0.75</text><text class="yl" x="-8" y="70">0.50</text><text class="yl" x="-8" y="102.5">0.25</text><text class="yl" x="-8" y="135">0.00</text><text class="xl" x="0" y="151">0.0</text><text class="xl" x="66" y="151">0.5</text><text class="xl" x="132" y="151">1.0</text></g>
<g transform="translate(874,832)"><rect class="ax" width="132" height="130"/><path class="tk" d="M-5 0H0M-5 32.5H0M-5 65H0M-5 97.5H0M-5 130H0M0 130v5M66 130v5M132 130v5"/><text class="yl" x="-8" y="5">1.00</text><text class="yl" x="-8" y="37.5">0.75</text><text class="yl" x="-8" y="70">0.50</text><text class="yl" x="-8" y="102.5">0.25</text><text class="yl" x="-8" y="135">0.00</text><text class="xl" x="0" y="151">0.0</text><text class="xl" x="66" y="151">0.5</text><text class="xl" x="132" y="151">1.0</text></g>
<g transform="translate(1012,832)"><rect class="ax" width="132" height="130"/><path class="tk" d="M-5 0H0M-5 32.5H0M-5 65H0M-5 97.5H0M-5 130H0M0 130v5M66 130v5M132 130v5"/><text class="yl" x="-8" y="5">1.00</text><text class="yl" x="-8" y="37.5">0.75</text><text class="yl" x="-8" y="70">0.50</text><text class="yl" x="-8" y="102.5">0.25</text><text class="yl" x="-8" y="135">0.00</text><text class="xl" x="0" y="151">0.0</text><text class="xl" x="66" y="151">0.5</text><text class="xl" x="132" y="151">1.0</text></g>
<g transform="translate(1150,832)"><rect class="ax" width="132" height="130"/><path class="tk" d="M-5 0H0M-5 32.5H0M-5 65H0M-5 97.5H0M-5 130H0M0 130v5M66 130v5M132 130v5"/><text class="yl" x="-8" y="5">1.00</text><text class="yl" x="-8" y="37.5">0.75</text><text class="yl" x="-8" y="70">0.50</text><text class="yl" x="-8" y="102.5">0.25</text><text class="yl" x="-8" y="135">0.00</text><text class="xl" x="0" y="151">0.0</text><text class="xl" x="66" y="151">0.5</text><text class="xl" x="132" y="151">1.0</text></g>
<g transform="translate(1288,832)"><rect class="ax" width="132" height="130"/><path class="tk" d="M-5 0H0M-5 32.5H0M-5 65H0M-5 97.5H0M-5 130H0M0 130v5M66 130v5M132 130v5"/><text class="yl" x="-8" y="5">1.00</text><text class="yl" x="-8" y="37.5">0.75</text><text class="yl" x="-8" y="70">0.50</text><text class="yl" x="-8" y="102.5">0.25</text><text class="yl" x="-8" y="135">0.00</text><text class="xl" x="0" y="151">0.0</text><text class="xl" x="66" y="151">0.5</text><text class="xl" x="132" y="151">1.0</text></g>
<g transform="translate(1426,832)"><rect class="ax" width="132" height="130"/><path class="tk" d="M-5 0H0M-5 32.5H0M-5 65H0M-5 97.5H0M-5 130H0M0 130v5M66 130v5M132 130v5"/><text class="yl" x="-8" y="5">1.00</text><text class="yl" x="-8" y="37.5">0.75</text><text class="yl" x="-8" y="70">0.50</text><text class="yl" x="-8" y="102.5">0.25</text><text class="yl" x="-8" y="135">0.00</text><text class="xl" x="0" y="151">0.0</text><text class="xl" x="66" y="151">0.5</text><text class="xl" x="132" y="151">1.0</text></g>
<g transform="translate(1564,832)"><rect class="ax" width="132" height="130"/><path class="tk" d="M-5 0H0M-5 32.5H0M-5 65H0M-5 97.5H0M-5 130H0M0 130v5M66 130v5M132 130v5"/><text class="yl" x="-8" y="5">1.00</text><text class="yl" x="-8" y="37.5">0.75</text><text class="yl" x="-8" y="70">0.50</text><text class="yl" x="-8" y="102.5">0.25</text><text class="yl" x="-8" y="135">0.00</text><text class="xl" x="0" y="151">0.0</text><text class="xl" x="66" y="151">0.5</text><text class="xl" x="132" y="151">1.0</text></g>
<g transform="translate(1702,832)"><rect class="ax" width="132" height="130"/><path class="tk" d="M-5 0H0M-5 32.5H0M-5 65H0M-5 97.5H0M-5 130H0M0 130v5M66 130v5M132 130v5"/><text class="yl" x="-8" y="5">1.00</text><text class="yl" x="-8" y="37.5">0.75</text><text class="yl" x="-8" y="70">0.50</text><text class="yl" x="-8" y="102.5">0.25</text><text class="yl" x="-8" y="135">0.00</text><text class="xl" x="0" y="151">0.0</text><text class="xl" x="66" y="151">0.5</text><text class="xl" x="132" y="151">1.0</text></g>
<g transform="translate(1840,832)"><rect class="ax" width="132" height="130"/><path class="tk" d="M-5 0H0M-5 32.5H0M-5 65H0M-5 97.5H0M-5 130H0M0 130v5M66 130v5M132 130v5"/><text class="yl" x="-8" y="5">1.00</text><text class="yl" x="-8" y="37.5">0.75</text><text class="yl" x="-8" y="70">0.50</text><text class="yl" x="-8" y="102.5">0.25</text><text class="yl" x="-8" y="135">0.00</text><text class="xl" x="0" y="151">0.0</text><text class="xl" x="66" y="151">0.5</text><text class="xl" x="132" y="151">1.0</text></g>
</svg>
</body></html>
